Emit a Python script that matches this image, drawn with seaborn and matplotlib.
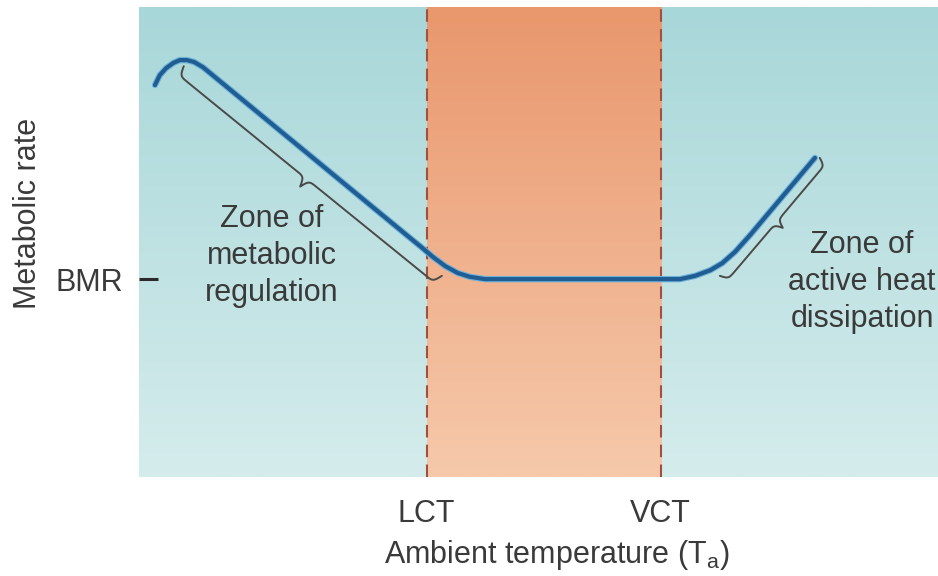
import numpy as np
import pandas as pd
import matplotlib
matplotlib.use("Agg")
import matplotlib.pyplot as plt
import matplotlib.patheffects as pe
from matplotlib.colors import LinearSegmentedColormap
import seaborn as sns

# metabolic rate curve (arbitrary units, 0-100 on both axes)
temperature = [2.0, 2.6, 3.4, 4.3, 5.1, 6.0, 6.9, 8.0, 33.9, 35.2, 36.8, 38.3,
               39.9, 41.4, 43.3, 67.7, 69.6, 71.5, 73.0, 74.6, 76.5, 84.6]
metabolic_rate = [83.4, 85.5, 87.0, 88.1, 88.7, 88.7, 88.3, 87.2, 50.9, 49.1, 46.8,
                  44.9, 43.4, 42.6, 42.1, 42.1, 42.8, 44.0, 45.5, 47.9, 51.5, 67.9]

lct, vct = 36.0, 65.3
bmr = 42.1
x_ticks = [lct, vct]
x_tick_labels = ["LCT", "VCT"]
y_ticks = [bmr]
y_tick_labels = ["BMR"]

# zone braces (end points) and labels
regulation_brace = [(5.6, 87.4), (37.9, 42.8)]
dissipation_brace = [(72.7, 42.8), (85.2, 67.9)]
regulation_label = "Zone of\nmetabolic\nregulation"
dissipation_label = "Zone of\nactive heat\ndissipation"

TEXT = "#3a3a3a"


def draw_brace(ax, p0, p1, height=20, beta=0.6, **kw):
    # curly brace between p0 and p1, built in pixel space so it keeps its shape
    a = ax.transData.transform(p0)
    b = ax.transData.transform(p1)
    d = b - a
    L = np.hypot(*d)
    u = d / L
    n = np.array([u[1], -u[0]])
    t = np.linspace(0, L / 2, 300)
    half = 1 / (1 + np.exp(-beta * (t - t[0]))) + 1 / (1 + np.exp(-beta * (t - t[-1]))) - 0.5
    s = np.concatenate([t, L - t[::-1]])
    h = np.concatenate([half, half[::-1]]) * height
    pts = a + np.outer(s, u) + np.outer(h, n)
    xy = ax.transData.inverted().transform(pts)
    ax.plot(xy[:, 0], xy[:, 1], **kw)


def main():
    sns.set_theme(style="white")
    plt.rcParams["font.family"] = ["Liberation Sans", "DejaVu Sans"]

    fig = plt.figure(figsize=(9.38, 5.76), dpi=100)
    ax = fig.add_axes([139 / 938, 1 - 477 / 576, 799 / 938, 470 / 576])
    ax.set_xlim(0, 100)
    ax.set_ylim(0, 100)

    # shaded backgrounds (vertical gradients)
    grad = np.linspace(1, 0, 256).reshape(-1, 1)
    teal = LinearSegmentedColormap.from_list("teal", ["#d5ecec", "#a8d7d9"])
    orange = LinearSegmentedColormap.from_list("orange", ["#f6c9ab", "#e9976d"])
    ax.imshow(grad, extent=[0, 100, 0, 100], aspect="auto", cmap=teal, zorder=0)
    ax.imshow(grad, extent=[lct, vct, 0, 100], aspect="auto", cmap=orange, zorder=0.5)
    for x in x_ticks:
        ax.axvline(x, color="#a0503c", lw=1.5, ls=(0, (6, 3.5)), zorder=1)

    df = pd.DataFrame({"temperature": temperature, "rate": metabolic_rate})
    sns.lineplot(data=df, x="temperature", y="rate", ax=ax, sort=False, estimator=None,
                 color="#1f5d92", lw=3.0, zorder=3,
                 path_effects=[pe.Stroke(linewidth=4.6, foreground="#6fb2da"), pe.Normal()])

    draw_brace(ax, *regulation_brace, height=20, beta=0.6, color="#4a4a4a", lw=1.4, zorder=2)
    draw_brace(ax, *dissipation_brace, height=17, beta=0.6, color="#4a4a4a", lw=1.4, zorder=2)

    ax.text(16.6, 47.0, regulation_label, ha="center", va="center", fontsize=22,
            color=TEXT, linespacing=1.3)
    ax.text(90.5, 41.5, dissipation_label, ha="center", va="center", fontsize=22,
            color=TEXT, linespacing=1.3)

    ax.set_xticks(x_ticks, x_tick_labels)
    ax.set_yticks(y_ticks, y_tick_labels)
    ax.tick_params(axis="x", bottom=False, length=0, pad=16, labelsize=22, labelcolor=TEXT)
    ax.tick_params(axis="y", left=True, direction="in", length=13.5, width=2.2,
                   color="#2a2a2a", pad=11.5, labelsize=22, labelcolor=TEXT)
    for sp in ax.spines.values():
        sp.set_visible(False)
    ax.grid(False)

    ax.set_xlabel("Ambient temperature (T$_\\mathregular{a}$)", fontsize=22, color=TEXT, va="center")
    ax.xaxis.set_label_coords(0.523, -0.166)
    ax.set_ylabel("Metabolic rate", fontsize=22, color=TEXT, va="center")
    ax.yaxis.set_label_coords(-0.139, 0.56)

    fig.savefig("out.png", dpi=100)


if __name__ == "__main__":
    main()
